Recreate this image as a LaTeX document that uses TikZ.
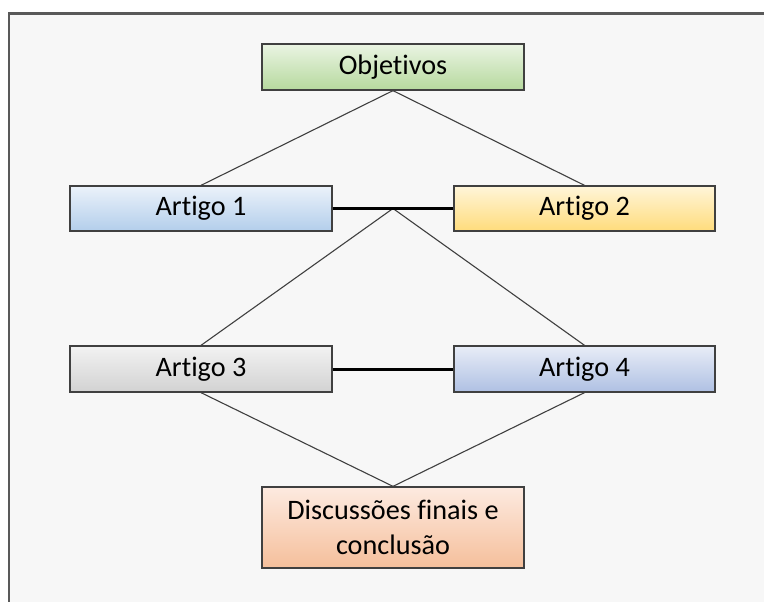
\documentclass[tikz,border=0pt]{standalone}
\usepackage{fontspec}
\setmainfont{Carlito}[Ligatures={NoCommon}]
\usetikzlibrary{calc}
\definecolor{framecol}{HTML}{595959}
\definecolor{bgcol}{HTML}{F7F7F7}
\definecolor{edgecol}{HTML}{404040}
\definecolor{gT}{HTML}{EAF4E3}\definecolor{gM}{HTML}{CDE6BC}\definecolor{gB}{HTML}{B6D99E}
\definecolor{bT}{HTML}{EBF2FA}\definecolor{bM}{HTML}{CFE0F3}\definecolor{bB}{HTML}{B3CEEB}
\definecolor{yT}{HTML}{FFF5D9}\definecolor{yM}{HTML}{FFE9AB}\definecolor{yB}{HTML}{FFDC7C}
\definecolor{sT}{HTML}{F2F2F2}\definecolor{sM}{HTML}{E2E2E2}\definecolor{sB}{HTML}{D2D2D2}
\definecolor{pT}{HTML}{E8EDF7}\definecolor{pM}{HTML}{CBD6EE}\definecolor{pB}{HTML}{AFC0E3}
\definecolor{oT}{HTML}{FDEAE0}\definecolor{oM}{HTML}{F8D2B9}\definecolor{oB}{HTML}{F5BF9B}
\tikzset{
  box/.style={draw=edgecol, line width=1.3pt, minimum width=262pt, minimum height=46pt,
    inner sep=0pt, align=center, font=\fontsize{28.2}{35}\selectfont, text=black},
  shadeit/.style={top color=#1T, middle color=#1M, bottom color=#1B},
  thin/.style={draw=edgecol, line width=1.1pt},
  thick link/.style={draw=black, line width=3pt},
}
\begin{document}
\begin{tikzpicture}[x=1pt,y=-1pt]
\useasboundingbox (0,0) rectangle (764,602);
\fill[white] (0,0) rectangle (764,602);
\fill[bgcol] (9,14) rectangle (764,602);
\draw[framecol, line width=2.2pt] (8.6,602) -- (8.6,13.6) -- (764,13.6);

\node[box, shadeit=g] (obj) at (393,67) {Objetivos};
\node[box, minimum height=45pt, shadeit=b] (a1) at (201,208.5) {Artigo 1};
\node[box, minimum height=45pt, minimum width=261pt, shadeit=y] (a2) at (584.5,208.5) {Artigo 2};
\node[box, shadeit=s] (a3) at (201,369) {Artigo 3};
\node[box, minimum width=261pt, shadeit=p] (a4) at (584.5,369) {Artigo 4};
\node[box, minimum height=81pt, shadeit=o] (dis) at (393,527.5) {Discussões finais e\\conclusão};

\coordinate (m1) at ($(a1.east)!0.5!(a2.west)$);
\draw[thin] (obj.south) -- (a1.north);
\draw[thin] (obj.south) -- (a2.north);
\draw[thin] (m1) -- (a3.north);
\draw[thin] (m1) -- (a4.north);
\draw[thin] (a3.south) -- (dis.north);
\draw[thin] (a4.south) -- (dis.north);
\draw[thick link] (a1.east) -- (a2.west);
\draw[thick link] (a3.east) -- (a4.west);
\end{tikzpicture}
\end{document}
